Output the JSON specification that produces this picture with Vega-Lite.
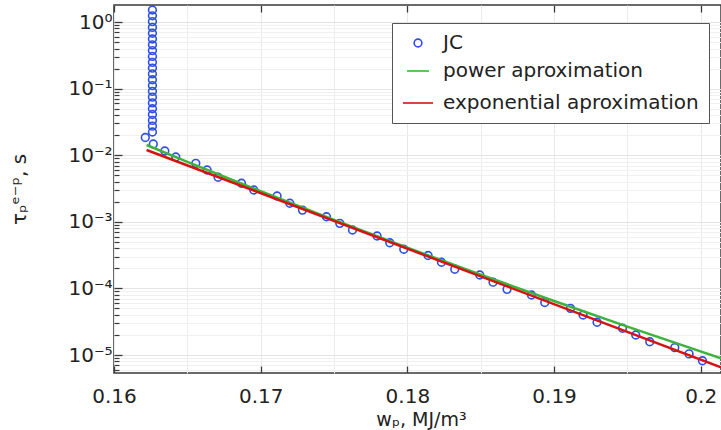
{
  "$schema": "https://vega.github.io/schema/vega-lite/v6.json",
  "width": 607,
  "height": 368,
  "autosize": {"type": "none"},
  "padding": {"left": 114, "top": 5, "right": 0, "bottom": 57},
  "background": "white",
  "config": {
    "font": "DejaVu Sans",
    "view": {"stroke": "#3a3a3a", "strokeWidth": 1.5}
  },
  "resolve": {"axis": {"x": "independent", "y": "independent"}},
  "datasets": {
    "jc": [
      {"series": "JC", "w": 0.16262, "tau": 1.514},
      {"series": "JC", "w": 0.16262, "tau": 1.239},
      {"series": "JC", "w": 0.16262, "tau": 1.014},
      {"series": "JC", "w": 0.16262, "tau": 0.830},
      {"series": "JC", "w": 0.16262, "tau": 0.678},
      {"series": "JC", "w": 0.16262, "tau": 0.555},
      {"series": "JC", "w": 0.16262, "tau": 0.454},
      {"series": "JC", "w": 0.16262, "tau": 0.372},
      {"series": "JC", "w": 0.16262, "tau": 0.304},
      {"series": "JC", "w": 0.16262, "tau": 0.248},
      {"series": "JC", "w": 0.16262, "tau": 0.203},
      {"series": "JC", "w": 0.16262, "tau": 0.166},
      {"series": "JC", "w": 0.16262, "tau": 0.136},
      {"series": "JC", "w": 0.16262, "tau": 0.111},
      {"series": "JC", "w": 0.16262, "tau": 0.0910},
      {"series": "JC", "w": 0.16262, "tau": 0.0745},
      {"series": "JC", "w": 0.16262, "tau": 0.0610},
      {"series": "JC", "w": 0.16262, "tau": 0.0499},
      {"series": "JC", "w": 0.16262, "tau": 0.0408},
      {"series": "JC", "w": 0.16262, "tau": 0.0333},
      {"series": "JC", "w": 0.16262, "tau": 0.0273},
      {"series": "JC", "w": 0.16262, "tau": 0.0223},
      {"series": "JC", "w": 0.162134, "tau": 0.01845},
      {"series": "JC", "w": 0.162679, "tau": 0.01473},
      {"series": "JC", "w": 0.163463, "tau": 0.01156},
      {"series": "JC", "w": 0.164213, "tau": 0.00940},
      {"series": "JC", "w": 0.165576, "tau": 0.00755},
      {"series": "JC", "w": 0.166346, "tau": 0.00600},
      {"series": "JC", "w": 0.167096, "tau": 0.00466},
      {"series": "JC", "w": 0.168691, "tau": 0.00379},
      {"series": "JC", "w": 0.169530, "tau": 0.00300},
      {"series": "JC", "w": 0.171118, "tau": 0.00244},
      {"series": "JC", "w": 0.171984, "tau": 0.00190},
      {"series": "JC", "w": 0.172849, "tau": 0.00150},
      {"series": "JC", "w": 0.174485, "tau": 0.00119},
      {"series": "JC", "w": 0.175392, "tau": 0.000949},
      {"series": "JC", "w": 0.176258, "tau": 0.000753},
      {"series": "JC", "w": 0.177935, "tau": 0.000612},
      {"series": "JC", "w": 0.178800, "tau": 0.000485},
      {"series": "JC", "w": 0.179755, "tau": 0.000387},
      {"series": "JC", "w": 0.181411, "tau": 0.000312},
      {"series": "JC", "w": 0.182324, "tau": 0.000247},
      {"series": "JC", "w": 0.183231, "tau": 0.000194},
      {"series": "JC", "w": 0.184935, "tau": 0.000159},
      {"series": "JC", "w": 0.185842, "tau": 0.000124},
      {"series": "JC", "w": 0.186796, "tau": 0.0000969},
      {"series": "JC", "w": 0.188459, "tau": 0.0000796},
      {"series": "JC", "w": 0.189366, "tau": 0.0000614},
      {"series": "JC", "w": 0.191118, "tau": 0.0000502},
      {"series": "JC", "w": 0.191977, "tau": 0.0000399},
      {"series": "JC", "w": 0.192931, "tau": 0.0000310},
      {"series": "JC", "w": 0.194663, "tau": 0.0000252},
      {"series": "JC", "w": 0.195569, "tau": 0.0000200},
      {"series": "JC", "w": 0.196524, "tau": 0.0000158},
      {"series": "JC", "w": 0.198228, "tau": 0.0000129},
      {"series": "JC", "w": 0.199203, "tau": 0.0000104},
      {"series": "JC", "w": 0.200116, "tau": 0.0000082}
    ],
    "fits": [
      {"series": "power aproximation", "w": 0.16222, "tau": 0.01422},
      {"series": "power aproximation", "w": 0.165, "tau": 0.00796},
      {"series": "power aproximation", "w": 0.17, "tau": 0.002875},
      {"series": "power aproximation", "w": 0.175, "tau": 0.001069},
      {"series": "power aproximation", "w": 0.18, "tau": 0.000409},
      {"series": "power aproximation", "w": 0.185, "tau": 0.0001607},
      {"series": "power aproximation", "w": 0.19, "tau": 0.0000647},
      {"series": "power aproximation", "w": 0.195, "tau": 0.0000267},
      {"series": "power aproximation", "w": 0.20138, "tau": 0.00000891},
      {"series": "exponential aproximation", "w": 0.16222, "tau": 0.01197},
      {"series": "exponential aproximation", "w": 0.20138, "tau": 0.00000653}
    ]
  },
  "layer": [
    {
      "data": {"name": "jc"},
      "mark": {"type": "point", "filled": false, "strokeWidth": 1.6, "opacity": 1, "clip": true},
      "encoding": {
        "x": {
          "field": "w", "type": "quantitative",
          "scale": {"domain": [0.16, 0.20138], "nice": false, "zero": false},
          "axis": {
            "orient": "bottom",
            "title": "wₚ, MJ/m³",
            "titleFontSize": 19, "titleFontWeight": "normal", "titleColor": "#222",
            "titleX": 307, "titleY": 59, "titleBaseline": "alphabetic", "titleAlign": "center",
            "values": [0.16, 0.17, 0.18, 0.19, 0.2],
            "labelExpr": "format(datum.value, '~g')",
            "labelFontSize": 20, "labelColor": "#222", "labelPadding": 13, "labelOverlap": false, "labelFlush": false,
            "offset": -7, "tickSize": 7,
            "tickColor": "#3a3a3a", "tickWidth": 1.3,
            "domain": false,
            "grid": true, "gridColor": "#e8e8e8", "gridWidth": 1
          }
        },
        "y": {
          "field": "tau", "type": "quantitative",
          "scale": {"type": "log", "domain": [5.37e-6, 1.8], "nice": false},
          "axis": {
            "orient": "left",
            "title": "τₚᵉ⁻ᵖ, s",
            "titleFontSize": 20, "titleFontWeight": "normal", "titleColor": "#222",
            "titleX": -97, "titleY": 184, "titleAngle": -90, "titleBaseline": "alphabetic", "titleAlign": "center",
            "values": [1e-5, 1e-4, 1e-3, 0.01, 0.1, 1],
            "labelExpr": "datum.value > 0.5 ? '10⁰' : datum.value > 0.05 ? '10⁻¹' : datum.value > 0.005 ? '10⁻²' : datum.value > 0.0005 ? '10⁻³' : datum.value > 0.00005 ? '10⁻⁴' : '10⁻⁵'",
            "labelFontSize": 20, "labelColor": "#222", "labelPadding": 2, "labelOverlap": false, "labelFlush": false,
            "labelBaseline": "middle",
            "offset": -8, "tickSize": 8,
            "tickColor": "#3a3a3a", "tickWidth": 1.3,
            "domain": false,
            "grid": true, "gridColor": "#e4e4e4", "gridWidth": 1
          }
        },
        "color": {
          "field": "series", "type": "nominal",
          "scale": {"domain": ["JC", "power aproximation", "exponential aproximation"], "range": ["#2f4fe0", "#3cb43c", "#d41414"]},
          "legend": {
            "title": null, "orient": "none", "legendX": 278, "legendY": 18,
            "fillColor": "white", "strokeColor": "#555", "padding": 10, "cornerRadius": 0,
            "labelFontSize": 20, "labelColor": "#222", "labelOffset": 9, "rowPadding": 6, "labelLimit": 400,
            "symbolStrokeWidth": 1.6
          }
        },
        "shape": {
          "field": "series", "type": "nominal",
          "scale": {"domain": ["JC", "power aproximation", "exponential aproximation"], "range": ["circle", "stroke", "stroke"]},
          "legend": {"title": null}
        },
        "size": {
          "field": "series", "type": "nominal",
          "scale": {"domain": ["JC", "power aproximation", "exponential aproximation"], "range": [60, 900, 900]},
          "legend": {"title": null}
        }
      }
    },
    {
      "data": {"name": "fits"},
      "transform": [{"filter": "datum.series == 'power aproximation'"}],
      "mark": {"type": "line", "color": "#3cb43c", "strokeWidth": 2.5, "clip": true},
      "encoding": {
        "x": {
          "field": "w", "type": "quantitative",
          "axis": {
            "orient": "top", "labels": false, "grid": false, "domain": false, "title": null,
            "values": [0.16, 0.17, 0.18, 0.19, 0.2],
            "offset": -7, "tickSize": 7, "tickColor": "#3a3a3a", "tickWidth": 1.3
          }
        },
        "y": {
          "field": "tau", "type": "quantitative",
          "axis": {
            "orient": "left", "labels": false, "domain": false, "title": null,
            "values": [6e-6, 7e-6, 8e-6, 9e-6,
              2e-5, 3e-5, 4e-5, 5e-5, 6e-5, 7e-5, 8e-5, 9e-5,
              2e-4, 3e-4, 4e-4, 5e-4, 6e-4, 7e-4, 8e-4, 9e-4,
              2e-3, 3e-3, 4e-3, 5e-3, 6e-3, 7e-3, 8e-3, 9e-3,
              0.02, 0.03, 0.04, 0.05, 0.06, 0.07, 0.08, 0.09,
              0.2, 0.3, 0.4, 0.5, 0.6, 0.7, 0.8, 0.9],
            "offset": -5, "tickSize": 5, "tickColor": "#3a3a3a", "tickWidth": 1.2,
            "grid": true, "gridColor": "#f0f0f0", "gridWidth": 1
          }
        }
      }
    },
    {
      "data": {"name": "fits"},
      "transform": [{"filter": "datum.series == 'exponential aproximation'"}],
      "mark": {"type": "line", "color": "#d41414", "strokeWidth": 2.5, "clip": true},
      "encoding": {
        "x": {
          "field": "w", "type": "quantitative",
          "axis": {
            "orient": "bottom", "labels": false, "ticks": false, "domain": false, "title": null,
            "values": [0.165, 0.175, 0.185, 0.195],
            "grid": true, "gridColor": "#ececec", "gridWidth": 1
          }
        },
        "y": {"field": "tau", "type": "quantitative", "axis": null}
      }
    }
  ]
}
